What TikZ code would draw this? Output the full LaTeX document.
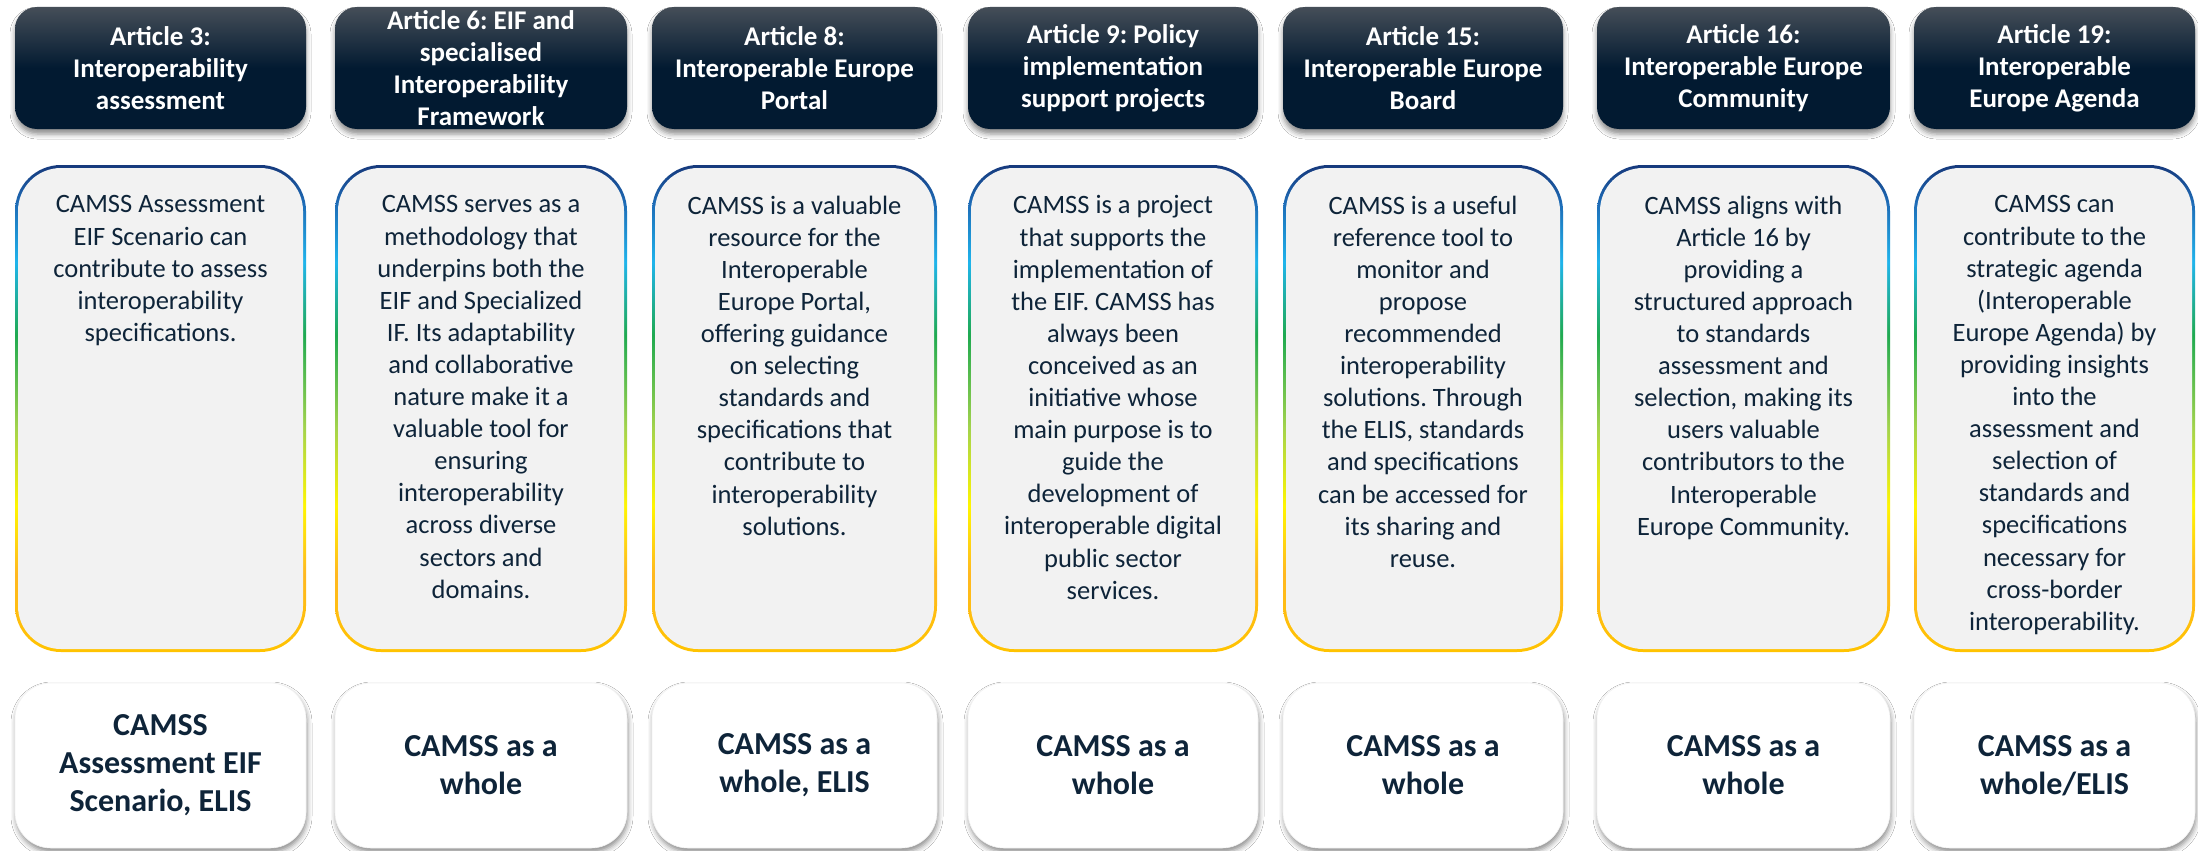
\documentclass[tikz,border=0pt]{standalone}
\usepackage{fontspec}
\setmainfont{Carlito}
\usetikzlibrary{shadows.blur}
\frenchspacing
\definecolor{hdNavy}{HTML}{021A31}
\definecolor{hdSlate}{HTML}{454E58}
\definecolor{bdBlue}{HTML}{16397C}
\definecolor{bdMid}{HTML}{1E6DB8}
\definecolor{bdCyan}{HTML}{1FB4EC}
\definecolor{bdGreen}{HTML}{1FAA50}
\definecolor{bdLime}{HTML}{A3D34C}
\definecolor{bdYellow}{HTML}{FFF500}
\definecolor{bdOrange}{HTML}{FFB820}
\definecolor{bdGold}{HTML}{FFC300}
\definecolor{bandGray}{HTML}{F2F2F2}
\definecolor{inkNavy}{HTML}{0E2439}
\pgfdeclareverticalshading{topfill}{100bp}{color(0bp)=(hdNavy); color(25bp)=(hdNavy); color(50bp)=(hdNavy); color(75bp)=(hdSlate); color(100bp)=(hdSlate)}
\pgfdeclareverticalshading{borderfade}{100bp}{color(0bp)=(bdGold); color(25bp)=(bdGold); color(33bp)=(bdOrange); color(40bp)=(bdYellow); color(48bp)=(bdLime); color(57.5bp)=(bdGreen); color(65bp)=(bdCyan); color(71bp)=(bdMid); color(75bp)=(bdBlue); color(100bp)=(bdBlue)}
\newcommand\camsscolumn[6]{%
  \node[headbox, minimum width={(#3-#2)*1pt}] (h#1) at ({(#2+#3)/2},68) {};
  \node[headtext] (ht#1) at (h#1.center) {#4};
  \node[bandbox, minimum width={(#3-#2)*1pt}] (b#1) at ({(#2+#3)/2},408.5) {};
  \node[bandinner, minimum width={(#3-#2-6)*1pt}] (bi#1) at (b#1.center) {};
  \node[bodytext, anchor=north] (bt#1) at ({(#2+#3)/2},195.5) {#5};
  \node[footbox, minimum width={(#3-#2)*1pt}] (f#1) at ({(#2+#3)/2},765.5) {};
  \node[foottext] (ft#1) at (f#1.center) {#6};
}
\begin{document}
\begin{tikzpicture}[x=1pt,y=-1pt,
  headbox/.style={shading=topfill, rounded corners=22pt, minimum height=122pt, inner sep=0pt, outer sep=0pt,
    blur shadow={shadow xshift=0pt, shadow yshift=-5pt, shadow blur radius=5pt, shadow opacity=45}},
  headtext/.style={text=white, font=\fontsize{27}{32}\selectfont\bfseries, align=center, inner sep=0pt},
  bandbox/.style={shading=borderfade, rounded corners=46pt, minimum height=487pt, inner sep=0pt, outer sep=0pt},
  bandinner/.style={fill=bandGray, rounded corners=43pt, minimum height=481pt, inner sep=0pt, outer sep=0pt},
  bodytext/.style={text=inkNavy, font=\fontsize{26.5}{32.1}\selectfont, align=center, inner sep=0pt, execute at begin node=\strut},
  footbox/.style={fill=white, draw=black!5, line width=0.6pt, rounded corners=36pt, minimum height=165pt, inner sep=0pt, outer sep=0pt,
    blur shadow={shadow xshift=1pt, shadow yshift=-4pt, shadow blur radius=5pt, shadow opacity=45}},
  foottext/.style={text=inkNavy, font=\fontsize{32}{38}\selectfont\bfseries, align=center, inner sep=0pt}]
\useasboundingbox[fill=white] (0,0) rectangle (2198,851);
\camsscolumn{1}{15}{306}{Article 3:\\Interoperability\\assessment}
 {CAMSS Assessment\\EIF Scenario can\\contribute to assess\\interoperability\\specifications.}
 {CAMSS\\Assessment EIF\\Scenario, ELIS}
\camsscolumn{2}{335}{627}{Article 6: EIF and\\specialised\\Interoperability\\Framework}
 {CAMSS serves as a\\methodology that\\underpins both the\\EIF and Specialized\\IF. Its adaptability\\and collaborative\\nature make it a\\valuable tool for\\ensuring\\interoperability\\across diverse\\sectors and\\domains.}
 {CAMSS as a\\whole}
\camsscolumn{3}{652}{937}{Article 8:\\Interoperable Europe\\Portal}
 {CAMSS is a valuable\\resource for the\\Interoperable\\Europe Portal,\\offering guidance\\on selecting\\standards and\\specifications that\\contribute to\\interoperability\\solutions.}
 {CAMSS as a\\whole, ELIS}
\camsscolumn{4}{968}{1258}{Article 9: Policy\\implementation\\support projects}
 {CAMSS is a project\\that supports the\\implementation of\\the EIF. CAMSS has\\always been\\conceived as an\\initiative whose\\main purpose is to\\guide the\\development of\\interoperable digital\\public sector\\services.}
 {CAMSS as a\\whole}
\camsscolumn{5}{1283}{1563}{Article 15:\\Interoperable Europe\\Board}
 {CAMSS is a useful\\reference tool to\\monitor and\\propose\\recommended\\interoperability\\solutions. Through\\the ELIS, standards\\and specifications\\can be accessed for\\its sharing and\\reuse.}
 {CAMSS as a\\whole}
\camsscolumn{6}{1597}{1890}{Article 16:\\Interoperable Europe\\Community}
 {CAMSS aligns with\\Article 16 by\\providing a\\structured approach\\to standards\\assessment and\\selection, making its\\users valuable\\contributors to the\\Interoperable\\Europe Community.}
 {CAMSS as a\\whole}
\camsscolumn{7}{1914}{2195}{Article 19:\\Interoperable\\Europe Agenda}
 {CAMSS can\\contribute to the\\strategic agenda\\(Interoperable\\Europe Agenda) by\\providing insights\\into the\\assessment and\\selection of\\standards and\\specifications\\necessary for\\cross-border\\interoperability.}
 {CAMSS as a\\whole/ELIS}
\end{tikzpicture}
\end{document}
